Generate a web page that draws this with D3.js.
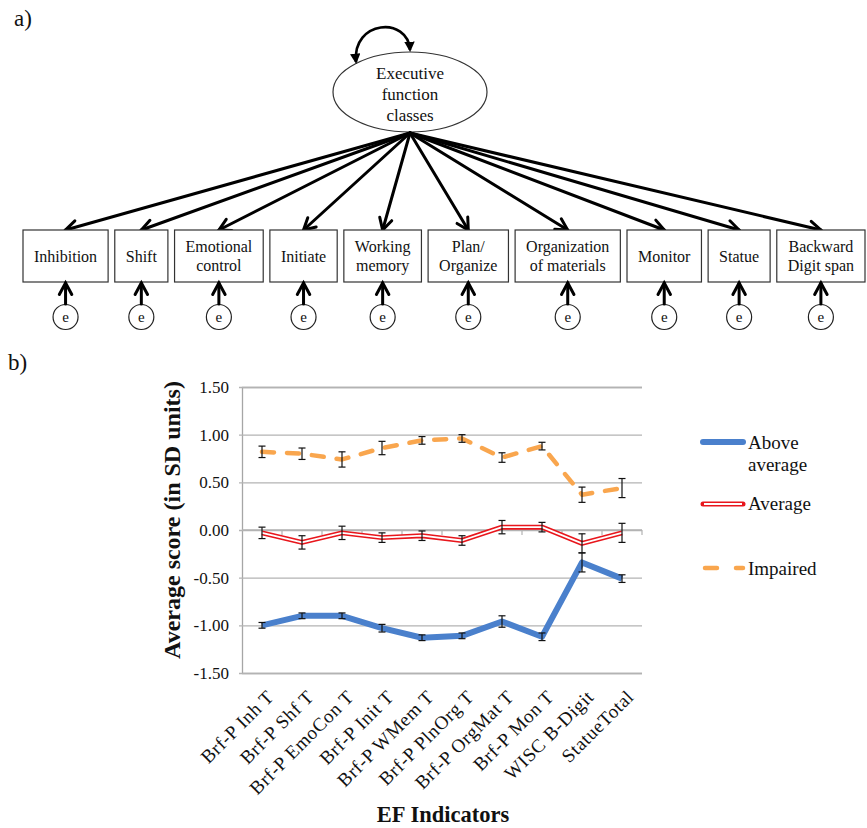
<!DOCTYPE html>
<html>
<head>
<meta charset="utf-8">
<script src="https://cdn.jsdelivr.net/npm/d3@7"></script>
<style>
  html, body { margin: 0; padding: 0; background: #fff; }
  svg { display: block; }
  text { font-family: "Liberation Serif", "Times New Roman", serif; fill: #111; }
</style>
</head>
<body>
<svg id="fig" width="867" height="828" font-family="Liberation Serif, Times New Roman, serif"></svg>
<script>
// ---------- Data ----------
const latentLabel = ["Executive", "function", "classes"];
const indicatorLabels = [
  "Inhibition", "Shift", "Emotional\ncontrol", "Initiate", "Working\nmemory",
  "Plan/\nOrganize", "Organization\nof materials", "Monitor", "Statue", "Backward\nDigit span"
];

const categories = ["Brf-P Inh T", "Brf-P Shf T", "Brf-P EmoCon T", "Brf-P Init T", "Brf-P WMem T",
  "Brf-P PlnOrg T", "Brf-P OrgMat T", "Brf-P Mon T", "WISC B-Digit", "StatueTotal"];
const aboveAvg    = [-1.00, -0.90, -0.90, -1.03, -1.13, -1.11, -0.96, -1.12, -0.34, -0.51];
const aboveAvgErr = [ 0.03,  0.03,  0.03,  0.04,  0.03,  0.03,  0.06,  0.04,  0.10,  0.04];
const average     = [-0.03, -0.13, -0.03, -0.08, -0.06, -0.11,  0.03,  0.03, -0.14, -0.03];
const averageErr  = [ 0.06,  0.07,  0.07,  0.05,  0.05,  0.05,  0.07,  0.05,  0.10,  0.10];
const impaired    = [ 0.82,  0.80,  0.74,  0.86,  0.94,  0.96,  0.76,  0.88,  0.37,  0.44];
const impairedErr = [ 0.06,  0.06,  0.08,  0.07,  0.04,  0.04,  0.05,  0.04,  0.08,  0.10];
const yTicks = [1.5, 1.0, 0.5, 0.0, -0.5, -1.0, -1.5];
const seriesNames = ["Above average", "Average", "Impaired"];

// ---------- Setup ----------
const svg = d3.select("#fig");
const FONT = '"Liberation Serif", "Times New Roman", serif';

// ===================== Panel a) =====================
svg.append("text").attr("x", 14).attr("y", 26).style("font-size", "23px").text("a)");

const defs = svg.append("defs");
defs.append("marker").attr("id", "loopHead")
  .attr("viewBox", "0 0 10 10").attr("refX", 8).attr("refY", 5)
  .attr("markerWidth", 4).attr("markerHeight", 4)
  .attr("orient", "auto-start-reverse").attr("markerUnits", "strokeWidth")
  .append("path").attr("d", "M0,0 L10,5 L0,10 Z").attr("fill", "#000");

const ell = { cx: 410, cy: 92, rx: 77, ry: 40 };
svg.append("ellipse").attr("cx", ell.cx).attr("cy", ell.cy).attr("rx", ell.rx).attr("ry", ell.ry)
  .attr("fill", "#fff").attr("stroke", "#333").attr("stroke-width", 1.2);
svg.append("g").selectAll("text").data(latentLabel).join("text")
  .attr("x", ell.cx).attr("y", (d, i) => 79 + i * 21).attr("text-anchor", "middle")
  .style("font-size", "17px").text(d => d);

// variance loop
svg.append("path")
  .attr("d", `M356,62 C352,20 408,16 410,50`)
  .attr("fill", "none").attr("stroke", "#000").attr("stroke-width", 2.6)
  .attr("marker-start", "url(#loopHead)").attr("marker-end", "url(#loopHead)");

// measure widths for boxes
const meas = svg.append("text").style("font-size", "16px");
const textW = indicatorLabels.map(l => {
  return d3.max(l.split("\n"), s => { meas.text(s); return meas.node().getComputedTextLength(); });
});
meas.remove();
const boxPad = 22, boxLeft = 23, boxRight = 865, boxTop = 230, boxH = 52;
const widths = textW.map(w => w + boxPad);
const gap = (boxRight - boxLeft - d3.sum(widths)) / (widths.length - 1);
let cursor = boxLeft;
const boxes = widths.map((w, i) => { const b = { x: cursor, w, label: indicatorLabels[i] }; cursor += w + gap; return b; });

function openArrow(g, x1, y1, x2, y2, sw) {
  g.append("line").attr("x1", x1).attr("y1", y1).attr("x2", x2).attr("y2", y2)
    .attr("stroke", "#000").attr("stroke-width", sw).attr("stroke-linecap", "round");
  const ang = Math.atan2(y2 - y1, x2 - x1), L = 13, a = 0.5;
  const p1 = [x2 - L * Math.cos(ang - a), y2 - L * Math.sin(ang - a)];
  const p2 = [x2 - L * Math.cos(ang + a), y2 - L * Math.sin(ang + a)];
  g.append("path").attr("d", `M${p1[0]},${p1[1]} L${x2},${y2} L${p2[0]},${p2[1]}`)
    .attr("fill", "none").attr("stroke", "#000").attr("stroke-width", sw)
    .attr("stroke-linejoin", "miter").attr("stroke-linecap", "round");
}

const gA = svg.append("g");
boxes.forEach(b => openArrow(gA, 410, 133, b.x + b.w / 2, boxTop, 3));
const gB = svg.append("g");
boxes.forEach(b => {
  const cx = b.x + b.w / 2;
  gB.append("rect").attr("x", b.x).attr("y", boxTop).attr("width", b.w).attr("height", boxH)
    .attr("fill", "#fff").attr("stroke", "#333").attr("stroke-width", 1.2);
  const lines = b.label.split("\n");
  lines.forEach((s, i) => {
    gB.append("text").attr("x", cx)
      .attr("y", boxTop + boxH / 2 + 5.5 + (i - (lines.length - 1) / 2) * 19.5)
      .attr("text-anchor", "middle").style("font-size", "16px").text(s);
  });
  gB.append("circle").attr("cx", cx).attr("cy", 317).attr("r", 12.5)
    .attr("fill", "#fff").attr("stroke", "#222").attr("stroke-width", 1.2);
  gB.append("text").attr("x", cx).attr("y", 321.5).attr("text-anchor", "middle")
    .style("font-size", "15px").text("e");
  openArrow(gB, cx, 304, cx, boxTop + boxH + 1, 3);
});

// ===================== Panel b) =====================
svg.append("text").attr("x", 8).attr("y", 370).style("font-size", "23px").text("b)");

const plot = { left: 242, right: 642, top: 387, bottom: 673 };
const x = d3.scalePoint().domain(categories).range([plot.left, plot.right]).padding(0.5);
const y = d3.scaleLinear().domain([-1.5, 1.5]).range([plot.bottom, plot.top]);

const gChart = svg.append("g");

const yAxis = d3.axisLeft(y).tickValues(yTicks).tickSize(-(plot.right - plot.left))
  .tickPadding(13).tickFormat(d => d.toFixed(2));
const gy = gChart.append("g").attr("transform", `translate(${plot.left},0)`).call(yAxis)
  .attr("font-family", null);
gy.select(".domain").attr("stroke", "#a6a6a6").attr("stroke-width", 1.3);
gy.selectAll(".tick line").attr("stroke", "#b3b3b3").attr("stroke-width", 1.3).attr("x1", -3);
gy.selectAll(".tick text").style("font-family", FONT).style("font-size", "17px").attr("fill", "#111");

gChart.append("line").attr("x1", plot.left).attr("x2", plot.right).attr("y1", y(0)).attr("y2", y(0))
  .attr("stroke", "#b3b3b3").attr("stroke-width", 1.3);
const step = x.step();
gChart.append("g").selectAll("line").data(categories).join("line")
  .attr("x1", d => x(d) + step / 2).attr("x2", d => x(d) + step / 2)
  .attr("y1", y(0)).attr("y2", y(0) + 5).attr("stroke", "#b3b3b3").attr("stroke-width", 1.2);

// category labels
gChart.append("g").selectAll("text").data(categories).join("text")
  .attr("transform", d => `translate(${x(d) + 13},${plot.bottom + 25}) rotate(-45)`)
  .attr("text-anchor", "end").style("font-size", "19px").style("letter-spacing", "0.6px")
  .text(d => d);

// axis titles
gChart.append("text").attr("transform", `translate(180,520) rotate(-90)`)
  .attr("text-anchor", "middle").style("font-size", "24px").style("font-weight", "bold")
  .text("Average score (in SD units)");
gChart.append("text").attr("x", 443).attr("y", 822).attr("text-anchor", "middle")
  .style("font-size", "22.5px").style("font-weight", "bold").text("EF Indicators");

// series
const line = d3.line().x((d, i) => x(categories[i])).y(d => y(d));
const BLUE = "#4a80cc", RED = "#e8161c", ORANGE = "#f9a64e";

gChart.append("path").datum(aboveAvg).attr("d", line).attr("fill", "none")
  .attr("stroke", BLUE).attr("stroke-width", 6).attr("stroke-linejoin", "round");
gChart.append("path").datum(average).attr("d", line).attr("fill", "none")
  .attr("stroke", RED).attr("stroke-width", 5).attr("stroke-linejoin", "round");
gChart.append("path").datum(average).attr("d", line).attr("fill", "none")
  .attr("stroke", "#fff").attr("stroke-width", 1.8).attr("stroke-linejoin", "round");
gChart.append("path").datum(impaired).attr("d", line).attr("fill", "none")
  .attr("stroke", ORANGE).attr("stroke-width", 4.5).attr("stroke-dasharray", "12,13")
  .attr("stroke-linecap", "round").attr("stroke-linejoin", "round");

function errBars(vals, errs) {
  const g = gChart.append("g").attr("stroke", "#111").attr("stroke-width", 1.2);
  vals.forEach((v, i) => {
    const cx = x(categories[i]);
    const y1 = y(v + errs[i]), y2 = y(v - errs[i]);
    g.append("line").attr("x1", cx).attr("x2", cx).attr("y1", y1).attr("y2", y2);
    g.append("line").attr("x1", cx - 3.5).attr("x2", cx + 3.5).attr("y1", y1).attr("y2", y1);
    g.append("line").attr("x1", cx - 3.5).attr("x2", cx + 3.5).attr("y1", y2).attr("y2", y2);
  });
}
errBars(aboveAvg, aboveAvgErr);
errBars(average, averageErr);
errBars(impaired, impairedErr);

// legend
const lg = gChart.append("g");
const lx1 = 703, lx2 = 743, tx = 748;
lg.append("line").attr("x1", lx1).attr("x2", lx2).attr("y1", 442).attr("y2", 442)
  .attr("stroke", BLUE).attr("stroke-width", 6).attr("stroke-linecap", "round");
lg.append("text").attr("x", tx).attr("y", 449).style("font-size", "19px").text("Above");
lg.append("text").attr("x", tx).attr("y", 471).style("font-size", "19px").text("average");

lg.append("line").attr("x1", lx1).attr("x2", lx2).attr("y1", 504).attr("y2", 504)
  .attr("stroke", RED).attr("stroke-width", 5).attr("stroke-linecap", "round");
lg.append("line").attr("x1", lx1 + 1).attr("x2", lx2 - 1).attr("y1", 504).attr("y2", 504)
  .attr("stroke", "#fff").attr("stroke-width", 1.8);
lg.append("text").attr("x", tx).attr("y", 510).style("font-size", "19px").text(seriesNames[1]);

lg.append("line").attr("x1", lx1 + 2).attr("x2", lx2).attr("y1", 568).attr("y2", 568)
  .attr("stroke", ORANGE).attr("stroke-width", 4.5).attr("stroke-dasharray", "12,19")
  .attr("stroke-linecap", "round");
lg.append("text").attr("x", tx).attr("y", 575).style("font-size", "19px").text(seriesNames[2]);
</script>
</body>
</html>
